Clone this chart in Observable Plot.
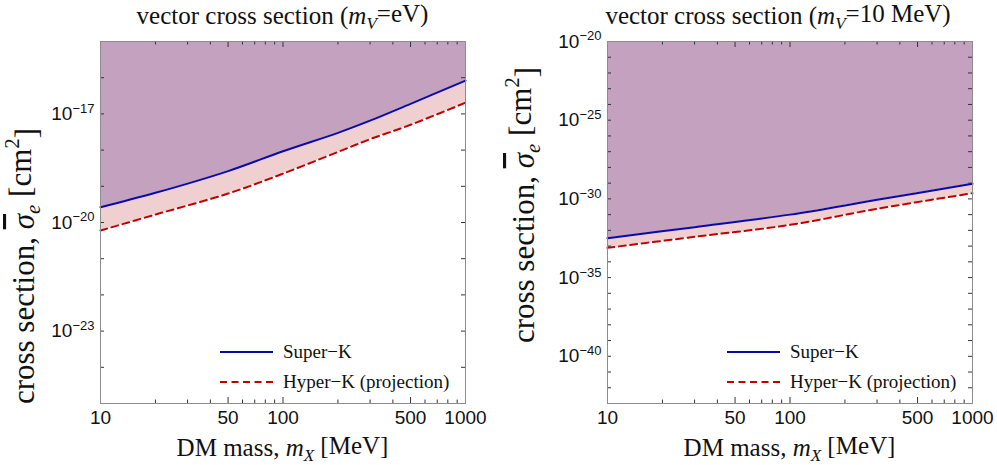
<!DOCTYPE html>
<html><head><meta charset="utf-8">
<script src="https://cdn.jsdelivr.net/npm/d3@7"></script>
<script src="https://cdn.jsdelivr.net/npm/@observablehq/plot@0.6"></script>
<style>
body{margin:0;background:#fff;}
#wrap{display:flex;width:997px;height:465px;}
svg{overflow:visible;}
</style></head>
<body><div id="wrap"></div>
<script>
// ---- data ----
const massL = [10, 20, 50, 100, 200, 300, 500, 1000];
const superK_L = [2.63e-20, 6.6e-20, 2.63e-19, 9.3e-19, 3.0e-18, 6.5e-18, 1.9e-17, 8.3e-17];
const hyperK_L = [6.0e-21, 1.66e-20, 6.3e-20, 2.24e-19, 8.9e-19, 2.0e-18, 5.0e-18, 2.04e-17];

const massR = [10, 30, 100, 300, 1000];
const superK_R = [3.2e-33, 1.6e-32, 1.0e-31, 8.7e-31, 9.1e-30];
const hyperK_R = [7.8e-34, 3.9e-33, 2.24e-32, 2.34e-31, 2.3e-30];

const xDomain = [10, 1000];
const yDomainL = [1e-25, 1e-15];
const yDomainR = [1e-43, 1e-20];
const xMajorTicks = [10, 50, 100, 500, 1000];
const xMinorTicks = [20, 30, 40, 60, 70, 80, 90, 200, 300, 400, 600, 700, 800, 900];
const yTicksL = d3.range(-25, -14).map(e => Math.pow(10, e));
const yLabelsL = [1e-23, 1e-20, 1e-17];
const yTicksR = d3.range(-43, -19).map(e => Math.pow(10, e));
const yLabelsR = [1e-40, 1e-35, 1e-30, 1e-25, 1e-20];

const titles = [["vector cross section (", "m", "V", "=eV)"], ["vector cross section (", "m", "V", "=10 MeV)"]];
const legendNames = ["Super\u2212K", "Hyper\u2212K (projection)"];

// ---- style ----
const PURPLE = "#c4a1be", PINK = "#efcfcf", BLUE = "#0a0aa8", RED = "#c00000";
const SERIF = "Liberation Serif, Times New Roman, serif";
const SANS = "Liberation Sans, Arial, sans-serif";
const H = 465, MT = 41, MB = 62, FH = H - MT - MB, FW = 365;

function panel({mass, sk, hk, yDomain, yTicks, yLabels, width, ml, mr, title, titleX, ylabelX, ylabelY}) {
  const data = mass.map((m, i) => ({m, sk: sk[i], hk: hk[i]}));
  const top = yDomain[1];
  const tickC = "#333";
  const svg = Plot.plot({
    width, height: H, marginTop: MT, marginBottom: MB, marginLeft: ml, marginRight: mr,
    style: {fontFamily: SANS, background: "transparent", overflow: "visible"},
    x: {type: "log", domain: xDomain, axis: null},
    y: {type: "log", domain: yDomain, axis: null},
    marks: [
      Plot.areaY(data, {x: "m", y1: "sk", y2: () => top, fill: PURPLE, curve: "catmull-rom"}),
      Plot.areaY(data, {x: "m", y1: "hk", y2: "sk", fill: PINK, curve: "catmull-rom"}),
      Plot.line(data, {x: "m", y: "hk", stroke: RED, strokeWidth: 2, strokeDasharray: "7,4.5", curve: "catmull-rom"}),
      Plot.line(data, {x: "m", y: "sk", stroke: BLUE, strokeWidth: 2, curve: "catmull-rom"}),
      // inward ticks
      Plot.ruleX(xMinorTicks, {x: d => d, insetTop: FH - 3.5, stroke: tickC}),
      Plot.ruleX(xMinorTicks, {x: d => d, insetBottom: FH - 3.5, stroke: tickC}),
      Plot.ruleX(xMajorTicks, {x: d => d, insetTop: FH - 6, stroke: tickC}),
      Plot.ruleX(xMajorTicks, {x: d => d, insetBottom: FH - 6, stroke: tickC}),
      Plot.ruleY(yTicks, {y: d => d, insetRight: FW - 4, stroke: tickC}),
      Plot.ruleY(yTicks, {y: d => d, insetLeft: FW - 4, stroke: tickC}),
      Plot.frame({stroke: "#8c8c8c"}),
      // tick labels
      Plot.text(xMajorTicks, {x: d => d, frameAnchor: "bottom", dy: 20, text: d => String(d), fontSize: 19, fill: "#111"}),
      Plot.axisY(yLabels, {anchor: "left", tickSize: 0, tickPadding: 6, tickFormat: d => String(Math.round(Math.log10(d))), label: null, fontSize: 19, fill: "#111"})
    ]
  });
  const s = d3.select(svg);
  // superscript exponents on y tick labels
  s.selectAll('g[aria-label="y-axis tick label"] text').each(function () {
    const e = this.textContent.replace("-", "\u2212");
    this.textContent = "10";
    d3.select(this).append("tspan").attr("dy", "-0.55em").attr("font-size", "13px").text(e);
  });
  // title
  const t = s.append("text").attr("x", titleX).attr("y", 24).attr("text-anchor", "middle")
    .attr("font-family", SERIF).attr("font-size", 25).attr("fill", "#111");
  t.append("tspan").text(title[0]);
  t.append("tspan").attr("font-style", "italic").text(title[1]);
  t.append("tspan").attr("font-style", "italic").attr("font-size", 17).attr("dy", "0.3em").text(title[2]);
  t.append("tspan").attr("dy", "-0.3em").text(title[3]);
  // x label
  const xl = s.append("text").attr("x", ml + FW / 2).attr("y", 456).attr("text-anchor", "middle")
    .attr("font-family", SERIF).attr("font-size", 25).attr("fill", "#111");
  xl.append("tspan").text("DM mass, ");
  xl.append("tspan").attr("font-style", "italic").text("m");
  xl.append("tspan").attr("font-style", "italic").attr("font-size", 17).attr("dy", "0.3em").text("X");
  xl.append("tspan").attr("dy", "-0.3em").text(" [MeV]");
  // y label
  const yl = s.append("text").attr("transform", `translate(${ylabelX},${ylabelY}) rotate(-90)`).attr("text-anchor", "middle")
    .attr("font-family", SERIF).attr("font-size", 31).attr("fill", "#111");
  yl.append("tspan").text("cross section, ");
  yl.append("tspan").attr("font-style", "italic").attr("text-decoration", "overline").text("\u03c3");
  yl.append("tspan").attr("font-style", "italic").attr("font-size", 21).attr("dy", "0.3em").text("e");
  yl.append("tspan").attr("dy", "-0.3em").text(" [cm");
  yl.append("tspan").attr("font-size", 21).attr("dy", "-0.55em").text("2");
  yl.append("tspan").attr("dy", "0.55em").text("]");
  // legend
  const lx = ml + 120;
  [[352, BLUE, null], [382, RED, "7,4.5"]].forEach(([y, c, dash], i) => {
    s.append("line").attr("x1", lx).attr("x2", lx + 53).attr("y1", y).attr("y2", y)
      .attr("stroke", c).attr("stroke-width", 2).attr("stroke-dasharray", dash);
    s.append("text").attr("x", lx + 63).attr("y", y + 6).attr("text-anchor", "start")
      .attr("font-family", SERIF).attr("font-size", 19).attr("fill", "#111").text(legendNames[i]);
  });
  return svg;
}

const wrap = document.getElementById("wrap");
wrap.append(panel({mass: massL, sk: superK_L, hk: hyperK_L, yDomain: yDomainL, yTicks: yTicksL, yLabels: yLabelsL,
  width: 498, ml: 100, mr: 33, title: titles[0], titleX: 282.5, ylabelX: 34, ylabelY: 266}));
wrap.append(panel({mass: massR, sk: superK_R, hk: hyperK_R, yDomain: yDomainR, yTicks: yTicksR, yLabels: yLabelsR,
  width: 499, ml: 109, mr: 25, title: titles[1], titleX: 280, ylabelX: 36, ylabelY: 205}));
</script>
</body></html>
